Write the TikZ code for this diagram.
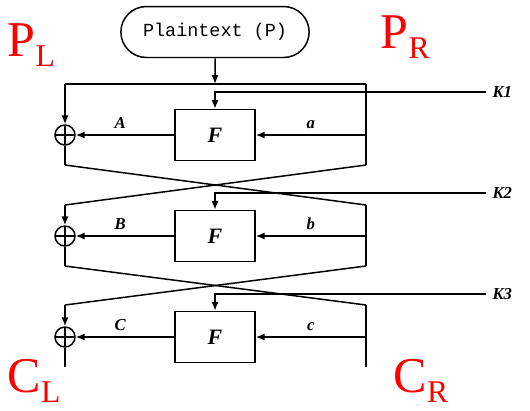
\documentclass[tikz,border=0pt]{standalone}
\usepackage{fontspec}
\setmainfont{Liberation Serif}
\setmonofont{Liberation Mono}
\usetikzlibrary{positioning,arrows.meta,shapes.misc}

\begin{document}
\begin{tikzpicture}[x=0.02cm,y=-0.02cm,line width=0.85pt,>={Latex[length=5pt,width=4pt]},
 pill/.style={draw,rounded rectangle,minimum width=4cm,minimum height=1.02cm,font=\ttfamily\fontsize{10.5}{12}\selectfont},
 fbox/.style={draw,minimum width=1.6cm,minimum height=1.02cm,font=\fontsize{12.5}{12}\selectfont\bfseries\itshape},
 xr/.style={draw,circle,minimum size=0.4cm,inner sep=0pt,
  path picture={\draw (path picture bounding box.north)--(path picture bounding box.south)
   (path picture bounding box.west)--(path picture bounding box.east);}},
 lbl/.style={font=\fontsize{9.5}{9}\selectfont\bfseries\itshape},
 rd/.style={text=red,anchor=base west,inner sep=0pt,font=\fontsize{28.5}{28}\selectfont}]
 \useasboundingbox (0,0) rectangle (530,410);
 \newcommand{\sbl}[1]{\raisebox{-6pt}{\fontsize{18}{18}\selectfont #1}}
 \node[pill](pt) at (215,32){Plaintext (P)};
 \foreach \i/\y/\t/\U/\u in {1/135/84/A/a,2/236/205/B/b,3/337/305/C/c}{
  \node[fbox](f\i) at (215,\y){F};
  \node[xr](x\i) at (65,\y){};
  \node[lbl,anchor=west](k\i) at (486,\y-43){K\i};
  \coordinate (r\i) at (366,\y);
  \coordinate (lt\i) at (65,\t);
  \coordinate (rt\i) at (366,\t);
  \coordinate (lb\i) at (65,\y+30);
  \coordinate (rb\i) at (366,\y+30);
  \draw[->](lt\i)--(x\i);
  \draw (x\i)--(lb\i);
  \draw (rt\i)--(rb\i);
  \draw[->](r\i)--(f\i) node[midway,above,lbl]{\u};
  \draw[->](f\i)--(x\i) node[pos=0.55,above,lbl]{\U};
  \draw[->](k\i.west)-|(f\i.north);
 }
 \draw[->](pt)--(pt|-lt1);
 \draw (lt1)--(rt1);
 \foreach \i/\j in {1/2,2/3}{
  \draw (lb\i)--(rt\j);
  \draw (rb\i)--(lt\j);
 }
 \node[rd](pl) at (7,56){P\sbl{L}};
 \node[rd](pr) at (380,48){P\sbl{R}};
 \node[rd](cl) at (7,392){C\sbl{L}};
 \node[rd](cr) at (393,392){C\sbl{R}};
\end{tikzpicture}
\end{document}
